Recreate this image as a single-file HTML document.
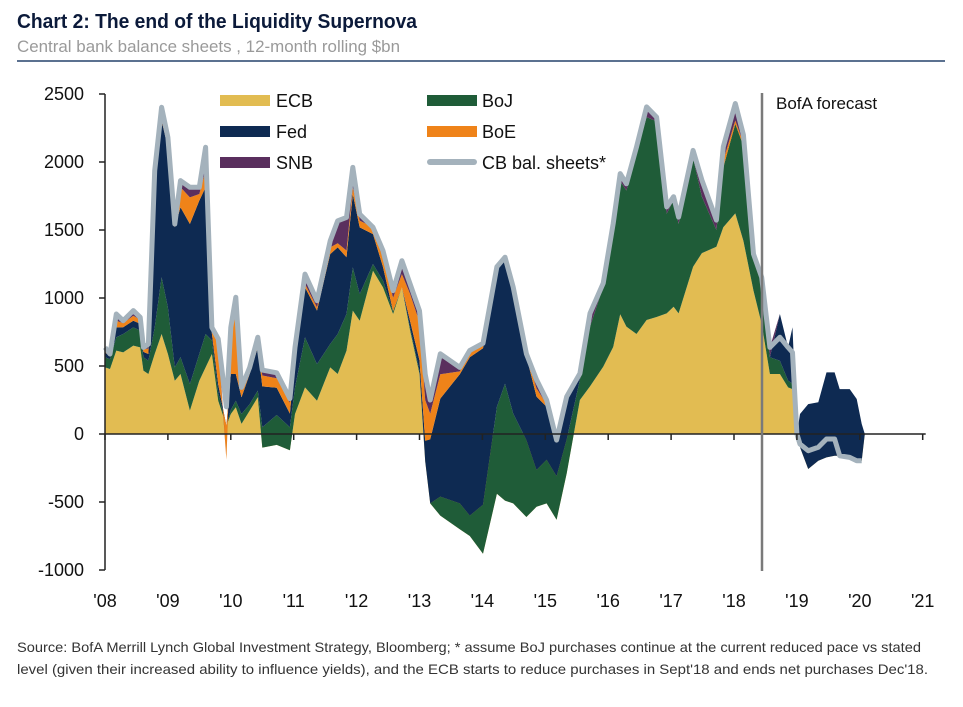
<!DOCTYPE html>
<html><head><meta charset="utf-8"><style>
html,body{margin:0;padding:0;background:#fff;}
svg{display:block;font-family:"Liberation Sans",Arial,sans-serif;}
</style></head><body>
<svg id="chart" width="963" height="707" viewBox="0 0 963 707" xmlns="http://www.w3.org/2000/svg">
<text x="17" y="28" font-size="20" font-weight="bold" fill="#0b1a3a" textLength="400" lengthAdjust="spacingAndGlyphs">Chart 2: The end of the Liquidity Supernova</text>
<text x="17" y="52" font-size="17" fill="#9a9a9a" textLength="383" lengthAdjust="spacingAndGlyphs">Central bank balance sheets , 12-month rolling $bn</text>
<rect x="17" y="60" width="928" height="2" fill="#5b7190"/>
<g id="areas"></g>
<g id="axes"></g>
<g id="legend">
<rect x="220" y="95" width="50" height="11" fill="#e2bc52"/>
<text x="276" y="107" font-size="18" fill="#111">ECB</text>
<rect x="220" y="126" width="50" height="11" fill="#0e2a52"/>
<text x="276" y="138" font-size="18" fill="#111">Fed</text>
<rect x="220" y="157" width="50" height="11" fill="#5a2f5e"/>
<text x="276" y="169" font-size="18" fill="#111">SNB</text>
<rect x="427" y="95" width="50" height="11" fill="#1f5c38"/>
<text x="482" y="107" font-size="18" fill="#111">BoJ</text>
<rect x="427" y="126" width="50" height="11" fill="#ef8319"/>
<text x="482" y="138" font-size="18" fill="#111">BoE</text>
<rect x="427" y="159" width="50" height="6" rx="3" fill="#a4b2bc"/>
<text x="482" y="169" font-size="18" fill="#111">CB bal. sheets*</text>
</g>
<text x="776" y="109" font-size="17" fill="#111">BofA forecast</text>
<text x="17" y="652" font-size="14" fill="#333" textLength="904" lengthAdjust="spacingAndGlyphs">Source: BofA Merrill Lynch Global Investment Strategy, Bloomberg; * assume BoJ purchases continue at the current reduced pace vs stated</text>
<text x="17" y="674" font-size="14" fill="#333" textLength="911" lengthAdjust="spacingAndGlyphs">level (given their increased ability to influence yields), and the ECB starts to reduce purchases in Sept'18 and ends net purchases Dec'18.</text>
</svg>
<script>
const dates=[2008.00,2008.08,2008.18,2008.29,2008.45,2008.56,2008.61,2008.69,2008.79,2008.90,2009.00,2009.11,2009.20,2009.35,2009.50,2009.60,2009.70,2009.80,2009.93,2010.00,2010.08,2010.17,2010.30,2010.43,2010.50,2010.73,2010.94,2011.02,2011.18,2011.37,2011.58,2011.70,2011.84,2011.94,2012.05,2012.26,2012.42,2012.58,2012.72,2012.85,2013.00,2013.09,2013.17,2013.33,2013.64,2013.80,2014.01,2014.23,2014.36,2014.49,2014.70,2014.86,2015.02,2015.18,2015.34,2015.55,2015.71,2015.92,2016.08,2016.19,2016.29,2016.45,2016.61,2016.77,2016.93,2017.04,2017.12,2017.35,2017.49,2017.72,2017.83,2018.02,2018.15,2018.31,2018.44,2018.57,2018.73,2018.86,2018.93,2019.00,2019.05,2019.18,2019.34,2019.47,2019.60,2019.68,2019.84,2019.95,2020.03,2020.08];
const ecb=[490,478,613,600,650,637,466,441,588,735,588,392,441,172,392,490,588,245,60,147,196,74,172,270,-100,-80,-120,147,343,245,490,441,612,907,833,1200,1078,882,1078,760,441,-200,-510,-600,-700,-750,-880,-440,-490,-510,-610,-535,-510,-630,-290,250,350,495,640,880,790,735,838,860,887,936,887,1230,1330,1377,1520,1622,1420,1054,809,441,441,343,330,0,-98,-257,-196,-172,-160,-160,-172,-196,-196,0];
const boj=[74,73,98,135,134,123,98,98,196,417,343,98,123,196,196,245,100,60,0,30,49,73,48,49,150,220,170,196,367,269,172,294,270,318,196,50,50,20,0,20,20,0,0,140,190,150,360,640,860,660,565,270,320,320,250,150,440,588,810,980,1000,1325,1492,1440,733,784,658,800,415,123,440,658,700,220,318,123,98,50,40,0,0,0,0,0,0,0,0,0,0,0];
const fed=[36,20,73,50,49,50,40,49,1128,1152,1177,1030,1103,1176,1128,1079,50,60,0,264,196,123,221,318,300,200,100,245,368,393,661,637,417,539,490,220,100,0,0,50,80,150,470,720,950,1165,1150,1010,910,880,615,540,390,265,290,20,0,0,0,0,0,0,0,0,0,0,0,0,0,0,0,0,0,0,0,0,343,244,415,0,245,477,429,625,613,490,502,453,270,0];
const boe=[25,10,50,30,37,30,20,40,12,60,40,12,147,196,49,122,30,300,-250,294,539,49,25,25,80,70,80,25,25,24,49,30,50,50,50,50,60,100,98,200,280,300,190,180,20,30,20,10,10,30,10,60,20,0,0,0,0,0,0,0,0,0,0,0,0,0,0,0,0,0,50,25,20,0,0,0,0,0,0,0,0,0,0,0,0,0,0,0,0,0];
const snb=[12,7,48,18,37,18,13,34,12,38,33,12,49,74,49,172,16,35,0,49,25,24,24,49,40,40,30,24,73,49,48,166,244,146,48,0,60,52,98,73,85,190,100,150,30,20,17,10,10,20,10,65,30,0,25,25,97,25,98,55,50,50,75,30,50,25,50,55,122,73,102,125,60,50,25,73,0,0,0,0,0,0,0,0,0,0,0,0,0,0];
const totals=[637,588,882,833,907,858,637,662,1936,2402,2181,1544,1863,1814,1814,2108,784,700,200,784,1005,343,490,711,470,450,260,637,1176,980,1420,1568,1593,1960,1617,1520,1348,1054,1274,1103,906,440,250,590,490,615,667,1230,1300,1080,590,400,250,-45,275,445,887,1108,1548,1915,1840,2110,2405,2330,1670,1745,1595,2085,1867,1573,2112,2430,2200,1323,1152,637,711,637,600,0,-74,-123,-98,-37,-37,-160,-172,-196,-196,null];
const yTicks=[2500,2000,1500,1000,500,0,-500,-1000];
const xTickLabels=["'08","'09","'10","'11","'12","'13","'14","'15","'16","'17","'18","'19","'20","'21"];
const seriesNames=["ecb","boj","fed","boe","snb"];
const seriesColors=["#e2bc52","#1f5c38","#0e2a52","#ef8319","#5a2f5e"];

const NS="http://www.w3.org/2000/svg";
const X0=105,XPY=62.9,Y0=434,YPU=0.136;
function xs(t){return X0+(t-2008)*XPY;}
function ys(v){return Y0-v*YPU;}

const areas=document.getElementById('areas');
const series=[ecb,boj,fed,boe,snb];
let base=dates.map(()=>0);
series.forEach((s,k)=>{
  const top=base.map((b,i)=>b+s[i]);
  let d='';
  dates.forEach((t,i)=>{d+=(i?'L':'M')+xs(t).toFixed(1)+','+ys(top[i]).toFixed(1);});
  for(let i=dates.length-1;i>=0;i--){d+='L'+xs(dates[i]).toFixed(1)+','+ys(base[i]).toFixed(1);}
  d+='Z';
  const p=document.createElementNS(NS,'path');
  p.setAttribute('d',d);p.setAttribute('fill',seriesColors[k]);
  
  
  areas.appendChild(p);
  base=top;
});
let ld='';let started=false;
dates.forEach((t,i)=>{if(totals[i]===null)return;ld+=(started?'L':'M')+xs(t).toFixed(1)+','+ys(totals[i]).toFixed(1);started=true;});
const line=document.createElementNS(NS,'path');
line.setAttribute('d',ld);line.setAttribute('fill','none');line.setAttribute('stroke','#a4b2bc');
line.setAttribute('stroke-width','5');line.setAttribute('stroke-linejoin','round');


areas.appendChild(line);

const axes=document.getElementById('axes');
function el(tag,attrs,txt){const e=document.createElementNS(NS,tag);for(const k in attrs)e.setAttribute(k,attrs[k]);if(txt!==undefined)e.textContent=txt;axes.appendChild(e);return e;}
const ya=el('line',{x1:X0,x2:X0,y1:ys(2500),y2:ys(-1000),stroke:'#222','stroke-width':1.5});


yTicks.forEach(v=>{
  const tk=el('line',{x1:X0-6,x2:X0,y1:ys(v),y2:ys(v),stroke:'#222','stroke-width':1.5});
  
  
  const lb=el('text',{x:84,y:ys(v)+6,'text-anchor':'end','font-size':18,fill:'#111'},String(v));
  
  
});
const xa=el('line',{x1:X0,x2:xs(2021)+3,y1:Y0,y2:Y0,stroke:'#222','stroke-width':1.5});


xTickLabels.forEach((s,i)=>{
  const x=xs(2008+i);
  const tk=el('line',{x1:x,x2:x,y1:Y0,y2:Y0+6,stroke:'#222','stroke-width':1.5});
  
  
  const lb=el('text',{x:x,y:607,'text-anchor':'middle','font-size':18,fill:'#111'},s);
  
  
});
const fl=el('line',{x1:762,x2:762,y1:93,y2:571,stroke:'#7a7a7a','stroke-width':2.5});


</script>
</body></html>
